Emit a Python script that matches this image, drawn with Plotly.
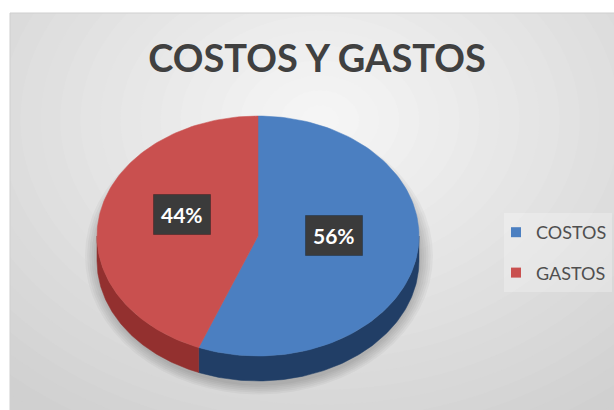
import numpy as np
import plotly.graph_objects as go

# ---------------- data ----------------
categories = ["COSTOS", "GASTOS"]
values = [56, 44]
top_colors = ["#4B7FC1", "#C9504F"]
side_colors = ["#213E66", "#93302F"]
title_text = "COSTOS Y GASTOS"

# ---------------- geometry / style ----------------
W, H = 614, 410
CX, CY, RX, RY, DEPTH = 258, 236, 161, 120, 25
LABEL_R, LABEL_LIFT = 0.48, 11
FONT = "Lato"

total = float(sum(values))
fracs = [v / total for v in values]
starts = np.cumsum([0.0] + fracs[:-1]) * 360.0
ends = starts + np.array(fracs) * 360.0


def arc(t0, t1, dy=0.0, n=120):
    t = np.radians(np.linspace(t0, t1, n))
    return CX + RX * np.sin(t), CY - RY * np.cos(t) + dy


fig = go.Figure()

# side faces (front half of the rim: 90..270 deg clockwise from top)
for i, cat in enumerate(categories):
    lo, hi = max(starts[i], 90.0), min(ends[i], 270.0)
    if hi > lo:
        xt, yt = arc(lo, hi)
        xb, yb = arc(hi, lo, DEPTH)
        fig.add_trace(go.Scatter(
            x=np.concatenate([xt, xb, xt[:1]]), y=np.concatenate([yt, yb, yt[:1]]),
            mode="lines", fill="toself", fillcolor=side_colors[i],
            line=dict(color=side_colors[i], width=0.5),
            hoverinfo="skip", showlegend=False))

# top faces
for i, cat in enumerate(categories):
    xa, ya = arc(starts[i], ends[i])
    fig.add_trace(go.Scatter(
        x=np.concatenate([[CX], xa, [CX]]), y=np.concatenate([[CY], ya, [CY]]),
        mode="lines", fill="toself", fillcolor=top_colors[i],
        line=dict(color=top_colors[i], width=0.5),
        name=cat, hoverinfo="text", text=f"{cat}: {values[i]}", showlegend=False))

# legend entries
for i, cat in enumerate(categories):
    fig.add_trace(go.Scatter(
        x=[None], y=[None], mode="markers", name=cat, legendgroup=cat,
        marker=dict(symbol="square", size=10, color=top_colors[i])))

# data labels
annotations = []
for i, cat in enumerate(categories):
    mid = np.radians((starts[i] + ends[i]) / 2.0)
    lx = CX + LABEL_R * RX * np.sin(mid)
    ly = CY - LABEL_R * RY * np.cos(mid) - LABEL_LIFT
    pct = f"{round(fracs[i] * 100)}%"
    annotations.append(dict(
        x=lx, y=ly, xref="x", yref="y", showarrow=False,
        text=f"<b>{pct}</b>", font=dict(family=FONT, size=21, color="white"),
        bgcolor="#3b3b3b", borderpad=7, bordercolor="rgba(0,0,0,0.25)", borderwidth=1))

# background: radial-ish gradient, frame, pie shadow
shapes = []
shapes.append(dict(type="rect", xref="x", yref="y", x0=10, y0=13, x1=W + 5, y1=H + 5,
                   fillcolor="#d0d0d0", line=dict(width=0), layer="below"))
gcx, gcy, gRx, gRy = 320, 120, 480, 360
for d in np.linspace(1.5, 0.04, 36):
    c = int(round(max(208, 247 - 39 * d)))
    shapes.append(dict(type="circle", xref="x", yref="y",
                       x0=gcx - gRx * d, x1=gcx + gRx * d, y0=gcy - gRy * d, y1=gcy + gRy * d,
                       fillcolor=f"rgb({c},{c},{c})", line=dict(width=0), layer="below"))
# mask outside of frame
shapes.append(dict(type="rect", xref="x", yref="y", x0=-5, y0=-5, x1=W + 5, y1=13,
                   fillcolor="white", line=dict(width=0), layer="below"))
shapes.append(dict(type="rect", xref="x", yref="y", x0=-5, y0=-5, x1=10, y1=H + 5,
                   fillcolor="white", line=dict(width=0), layer="below"))
shapes.append(dict(type="rect", xref="x", yref="y", x0=10, y0=13, x1=W + 5, y1=H + 5,
                   fillcolor="rgba(0,0,0,0)", line=dict(width=1, color="#cfcfcf"), layer="below"))
# legend panel
shapes.append(dict(type="rect", xref="x", yref="y", x0=504, y0=213, x1=612, y1=292,
                   fillcolor="rgba(255,255,255,0.25)", line=dict(width=0), layer="below"))
# soft shadow under pie
for k in range(6):
    g = 2 + k * 2.2
    shapes.append(dict(type="circle", xref="x", yref="y",
                       x0=CX - RX - g + 1, x1=CX + RX + g + 1,
                       y0=CY - RY - g + 14, y1=CY + RY + DEPTH + g * 0.8 + 3,
                       fillcolor="rgba(0,0,0,0.035)", line=dict(width=0), layer="below"))

fig.update_layout(
    width=W, height=H, margin=dict(l=0, r=0, t=0, b=0),
    paper_bgcolor="white", plot_bgcolor="rgba(0,0,0,0)",
    xaxis=dict(range=[0, W], visible=False, fixedrange=True),
    yaxis=dict(range=[H, 0], visible=False, fixedrange=True),
    title=dict(text=f"<b>{title_text}</b>", x=317 / W, xanchor="center",
               y=1 - 59 / H, yanchor="middle", yref="container",
               font=dict(family=FONT, size=38, color="#404040")),
    legend=dict(x=496 / W, xanchor="left", y=1 - 214 / H, yanchor="top",
                font=dict(family=FONT, size=18, color="#4f4f4f"),
                bgcolor="rgba(0,0,0,0)", tracegroupgap=14, itemclick=False),
    shapes=shapes, annotations=annotations, showlegend=True,
)

fig.write_html("out.html")
